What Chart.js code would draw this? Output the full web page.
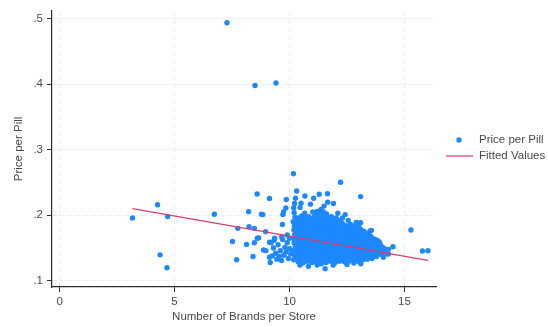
<!DOCTYPE html>
<html>
<head>
<meta charset="utf-8">
<script src="https://cdn.jsdelivr.net/npm/chart.js@4"></script>
<style>
  html, body { margin: 0; padding: 0; background: #ffffff; }
  canvas { display: block; }
</style>
</head>
<body>
<canvas id="chart" width="548" height="327"></canvas>
<script>
// Stores far from the main group
const isolatedStores = [
  [7.28, 0.494], [8.50, 0.398], [9.41, 0.402],
  [3.17, 0.196], [4.26, 0.216], [4.70, 0.198], [4.37, 0.1396], [4.67, 0.120],
  [6.73, 0.2015], [15.28, 0.1775], [15.78, 0.1455], [16.02, 0.146]
];

// Stores with 7.5 to 10 brands
const midStores = [
  [7.52, 0.160], [7.70, 0.132], [7.75, 0.180], [8.13, 0.1555], [8.22, 0.2055],
  [8.24, 0.1825], [8.41, 0.137], [8.47, 0.180], [8.47, 0.158], [8.59, 0.2325],
  [8.60, 0.165], [8.66, 0.1655], [8.78, 0.2015], [8.84, 0.201], [8.87, 0.147],
  [8.96, 0.175], [8.97, 0.146], [9.13, 0.2255], [9.13, 0.159], [9.13, 0.136],
  [9.16, 0.128], [9.33, 0.162], [9.66, 0.167], [9.69, 0.186], [9.71, 0.201],
  [9.74, 0.205], [9.84, 0.211], [9.86, 0.224], [9.20, 0.158], [9.30, 0.150],
  [9.40, 0.142], [9.50, 0.155], [9.55, 0.137], [9.60, 0.146], [9.70, 0.163],
  [9.75, 0.139], [9.80, 0.151], [9.85, 0.144], [9.90, 0.158], [9.95, 0.134],
  [10.00, 0.149], [10.05, 0.141], [9.45, 0.133], [9.65, 0.131], [9.35, 0.165],
  [9.90, 0.170], [10.00, 0.165], [9.25, 0.138]
];

// Main group of stores, 10 to 14.5 brands
const clusterStores = [
  [10.18,0.132],[10.22,0.139],[10.15,0.146],[10.25,0.152],[10.20,0.158],[10.17,0.165],[10.23,0.171],[10.19,0.178],
  [10.21,0.184],[10.16,0.190],[10.24,0.197],[10.20,0.204],[10.18,0.211],[10.22,0.218],[10.26,0.226],
  [10.38,0.129],[10.42,0.135],[10.36,0.141],[10.44,0.147],[10.40,0.153],[10.37,0.159],[10.43,0.164],[10.39,0.170],
  [10.41,0.176],[10.35,0.183],[10.45,0.189],[10.40,0.196],
  [10.58,0.127],[10.63,0.133],[10.57,0.139],[10.61,0.145],[10.64,0.151],[10.56,0.157],[10.60,0.163],[10.62,0.169],
  [10.59,0.175],[10.65,0.181],[10.57,0.188],[10.61,0.194],[10.66,0.203],
  [10.79,0.130],[10.83,0.136],[10.77,0.142],[10.81,0.148],[10.84,0.154],[10.78,0.160],[10.82,0.166],[10.80,0.172],
  [10.76,0.178],[10.85,0.185],[10.79,0.191],[10.83,0.198],
  [10.98,0.128],[11.03,0.134],[10.97,0.140],[11.01,0.146],[11.04,0.152],[10.99,0.158],[11.02,0.165],[10.96,0.171],
  [11.05,0.177],[11.00,0.183],[10.98,0.190],[11.03,0.196],[11.01,0.205],
  [11.19,0.129],[11.23,0.135],[11.17,0.141],[11.21,0.147],[11.24,0.153],[11.18,0.159],[11.22,0.166],[11.20,0.172],
  [11.16,0.178],[11.25,0.184],[11.19,0.190],[11.23,0.197],[11.20,0.206],
  [11.38,0.126],[11.42,0.132],[11.37,0.138],[11.41,0.144],[11.44,0.150],[11.39,0.156],[11.43,0.162],[11.36,0.168],
  [11.40,0.174],[11.45,0.180],[11.38,0.187],[11.42,0.193],[11.40,0.200],[11.37,0.209],
  [11.59,0.128],[11.63,0.134],[11.57,0.140],[11.61,0.146],[11.64,0.152],[11.58,0.158],[11.62,0.164],[11.60,0.170],
  [11.56,0.176],[11.65,0.182],[11.59,0.189],[11.63,0.195],[11.61,0.202],
  [11.78,0.130],[11.82,0.136],[11.77,0.142],[11.81,0.148],[11.84,0.154],[11.79,0.160],[11.83,0.166],[11.76,0.172],
  [11.80,0.178],[11.85,0.184],[11.78,0.191],[11.82,0.198],
  [11.99,0.128],[12.03,0.134],[11.97,0.140],[12.01,0.146],[12.04,0.152],[11.98,0.158],[12.02,0.164],[12.00,0.170],
  [11.96,0.176],[12.05,0.183],[11.99,0.189],[12.03,0.196],
  [12.18,0.130],[12.22,0.136],[12.17,0.142],[12.21,0.148],[12.24,0.154],[12.19,0.160],[12.23,0.166],[12.16,0.172],
  [12.20,0.179],[12.25,0.185],[12.18,0.192],
  [12.39,0.129],[12.43,0.135],[12.37,0.141],[12.41,0.147],[12.44,0.153],[12.38,0.159],[12.42,0.165],[12.40,0.171],
  [12.36,0.177],[12.45,0.184],
  [12.58,0.130],[12.62,0.136],[12.57,0.142],[12.61,0.148],[12.64,0.154],[12.59,0.160],[12.63,0.166],[12.56,0.172],
  [12.60,0.179],[12.65,0.186],
  [12.79,0.131],[12.83,0.137],[12.77,0.143],[12.81,0.149],[12.84,0.155],[12.78,0.161],[12.82,0.167],[12.80,0.174],
  [12.76,0.181],
  [12.98,0.130],[13.02,0.136],[12.97,0.142],[13.01,0.148],[13.04,0.154],[12.99,0.160],[13.03,0.167],[12.96,0.174],
  [13.00,0.182],[13.05,0.188],
  [13.19,0.132],[13.23,0.138],[13.17,0.144],[13.21,0.150],[13.24,0.156],[13.18,0.162],[13.22,0.169],[13.20,0.176],
  [13.38,0.133],[13.42,0.139],[13.37,0.145],[13.41,0.151],[13.44,0.157],[13.39,0.164],[13.43,0.171],
  [13.59,0.134],[13.63,0.140],[13.57,0.146],[13.61,0.152],[13.64,0.158],[13.58,0.165],
  [13.78,0.137],[13.82,0.143],[13.77,0.149],[13.81,0.155],[13.84,0.161],
  [14.00,0.140],[14.03,0.147],[13.98,0.153],[14.25,0.141],[14.30,0.148],[14.50,0.152]
];

// Stores between the columns of the main group
const clusterStoresInner = [
  [10.31,0.135],[10.29,0.142],[10.32,0.149],[10.28,0.155],[10.30,0.161],[10.33,0.168],[10.27,0.174],[10.31,0.181],[10.29,0.187],[10.32,0.193],
  [10.51,0.132],[10.48,0.138],[10.52,0.144],[10.49,0.150],[10.53,0.156],[10.50,0.162],[10.47,0.167],[10.52,0.173],[10.49,0.179],[10.51,0.186],[10.48,0.192],[10.53,0.199],
  [10.70,0.130],[10.72,0.136],[10.68,0.142],[10.71,0.148],[10.69,0.154],[10.73,0.160],[10.70,0.166],[10.67,0.172],[10.72,0.178],[10.69,0.184],[10.71,0.191],[10.70,0.197],
  [10.91,0.133],[10.88,0.139],[10.92,0.145],[10.89,0.151],[10.93,0.157],[10.90,0.163],[10.87,0.169],[10.92,0.175],[10.89,0.181],[10.91,0.188],[10.88,0.194],
  [11.10,0.131],[11.12,0.137],[11.08,0.143],[11.11,0.149],[11.09,0.155],[11.13,0.162],[11.10,0.168],[11.07,0.174],[11.12,0.180],[11.09,0.187],[11.11,0.193],[11.10,0.201],
  [11.31,0.129],[11.28,0.135],[11.32,0.141],[11.29,0.147],[11.33,0.153],[11.30,0.159],[11.27,0.165],[11.32,0.171],[11.29,0.177],[11.31,0.183],[11.28,0.190],[11.33,0.196],[11.30,0.203],
  [11.50,0.131],[11.52,0.137],[11.48,0.143],[11.51,0.149],[11.49,0.155],[11.53,0.161],[11.50,0.167],[11.47,0.173],[11.52,0.179],[11.49,0.185],[11.51,0.192],[11.50,0.198],[11.48,0.205],
  [11.71,0.133],[11.68,0.139],[11.72,0.145],[11.69,0.151],[11.73,0.157],[11.70,0.163],[11.67,0.169],[11.72,0.175],[11.69,0.181],[11.71,0.187],[11.68,0.194],
  [11.90,0.131],[11.92,0.137],[11.88,0.143],[11.91,0.149],[11.89,0.155],[11.93,0.161],[11.90,0.167],[11.87,0.173],[11.92,0.180],[11.89,0.186],[11.91,0.193],
  [12.11,0.133],[12.08,0.139],[12.12,0.145],[12.09,0.151],[12.13,0.157],[12.10,0.163],[12.07,0.169],[12.12,0.175],[12.09,0.182],[12.11,0.188],
  [12.30,0.132],[12.32,0.138],[12.28,0.144],[12.31,0.150],[12.29,0.156],[12.33,0.162],[12.30,0.168],[12.27,0.174],[12.32,0.181],[12.29,0.188],
  [12.51,0.133],[12.48,0.139],[12.52,0.145],[12.49,0.151],[12.53,0.157],[12.50,0.163],[12.47,0.169],[12.52,0.176],[12.49,0.182],
  [12.70,0.134],[12.72,0.140],[12.68,0.146],[12.71,0.152],[12.69,0.158],[12.73,0.164],[12.70,0.170],[12.67,0.177],[12.72,0.184],
  [12.91,0.133],[12.88,0.139],[12.92,0.145],[12.89,0.151],[12.93,0.157],[12.90,0.164],[12.87,0.171],[12.92,0.178],[12.89,0.185],
  [13.10,0.135],[13.12,0.141],[13.08,0.147],[13.11,0.153],[13.09,0.159],[13.13,0.165],[13.10,0.172],[13.07,0.179],
  [13.31,0.136],[13.28,0.142],[13.32,0.148],[13.29,0.154],[13.33,0.160],[13.30,0.167],[13.27,0.174],
  [13.50,0.137],[13.52,0.143],[13.48,0.149],[13.51,0.155],[13.49,0.161],[13.53,0.168],
  [13.71,0.138],[13.68,0.144],[13.72,0.150],[13.69,0.156],[13.73,0.162],
  [13.90,0.141],[13.92,0.147],[13.88,0.153],[13.91,0.159],
  [14.11,0.144],[14.09,0.150]
];

// Stores on the rim of the main group
const rimStores = [
  [10.31,0.237],[10.17,0.2635],[10.67,0.2295],[11.29,0.232],[11.65,0.233],[12.22,0.2505],[13.09,0.2285],
  [11.05,0.226],[11.66,0.220],[11.91,0.218],[10.91,0.217],[10.50,0.2185],[12.10,0.203],[12.42,0.201],
  [10.46,0.212],[11.27,0.206],[11.50,0.214],[12.30,0.196],[12.55,0.192],[12.90,0.189],[13.09,0.1885],
  [13.50,0.176],[13.56,0.177],[13.72,0.1635],[13.93,0.156],[14.16,0.148],[14.08,0.136],[14.30,0.141],
  [10.82,0.122],[11.55,0.1185],[11.90,0.124],[12.50,0.125],[10.45,0.124],[13.10,0.126],[12.80,0.127],[11.20,0.124]
];

// Endpoints of the fitted regression line
const fittedBrands = [3.17, 16.02];
const fittedPrice = [0.2102, 0.1312];

const xTicks = [0, 5, 10, 15];
const yTicks = [0.1, 0.2, 0.3, 0.4, 0.5];
const yTickLabels = ['.1', '.2', '.3', '.4', '.5'];

const seriesNames = ['Price per Pill', 'Fitted Values'];
const axisTitles = { x: 'Number of Brands per Store', y: 'Price per Pill' };

const POINT_COLOR = '#1e88ff';
const LINE_COLOR = '#dc3b6e';
const TEXT_COLOR = '#4a4a4a';
const FONT = '"Liberation Sans", Arial, sans-serif';

const toXY = p => ({ x: p[0], y: p[1] });
const priceData = [...isolatedStores, ...midStores, ...clusterStores, ...clusterStoresInner, ...rimStores].map(toXY);
const fittedData = fittedBrands.map((x, i) => ({ x, y: fittedPrice[i] }));

// Legend drawn at the right of the plot area
const sideLegend = {
  id: 'sideLegend',
  afterDraw(chart) {
    const ctx = chart.ctx;
    ctx.save();
    ctx.font = '11.5px ' + FONT;
    ctx.textBaseline = 'middle';
    ctx.textAlign = 'left';
    const rowY = [140, 156];
    ctx.beginPath();
    ctx.arc(459, rowY[0], 2.7, 0, Math.PI * 2);
    ctx.fillStyle = POINT_COLOR;
    ctx.fill();
    ctx.fillStyle = TEXT_COLOR;
    ctx.fillText(seriesNames[0], 479, rowY[0]);
    ctx.beginPath();
    ctx.moveTo(446, rowY[1]);
    ctx.lineTo(473, rowY[1]);
    ctx.strokeStyle = LINE_COLOR;
    ctx.lineWidth = 1.2;
    ctx.stroke();
    ctx.fillText(seriesNames[1], 479, rowY[1]);
    ctx.restore();
  }
};

new Chart(document.getElementById('chart'), {
  type: 'scatter',
  data: {
    datasets: [
      {
        label: seriesNames[1],
        type: 'line',
        data: fittedData,
        borderColor: LINE_COLOR,
        borderWidth: 1.2,
        pointRadius: 0,
        fill: false,
        order: 0
      },
      {
        label: seriesNames[0],
        data: priceData,
        backgroundColor: POINT_COLOR,
        borderWidth: 0,
        pointRadius: 2.7,
        pointHoverRadius: 2.7,
        order: 1
      }
    ]
  },
  options: {
    responsive: false,
    animation: false,
    devicePixelRatio: 1,
    layout: { padding: { top: 6, right: 112, left: 0, bottom: 0 } },
    plugins: { legend: { display: false }, tooltip: { enabled: false } },
    scales: {
      x: {
        type: 'linear',
        min: -0.33,
        max: 16.37,
        afterFit(scale) { scale.height = 40; },
        afterBuildTicks(scale) { scale.ticks = xTicks.map(v => ({ value: v })); },
        ticks: {
          color: TEXT_COLOR,
          font: { family: FONT, size: 11.5 },
          padding: 3,
          maxRotation: 0,
          callback: v => String(v)
        },
        grid: {
          color: '#ececec',
          lineWidth: 1,
          drawTicks: true,
          tickLength: 5,
          tickColor: '#333333',
          tickWidth: 1,
          tickBorderDash: []
        },
        border: { display: true, color: '#2b2b2b', width: 1.2, dash: [5, 3] },
        title: {
          display: true,
          text: axisTitles.x,
          color: TEXT_COLOR,
          font: { family: FONT, size: 11.5 },
          padding: { top: 0, bottom: 3 }
        }
      },
      y: {
        type: 'linear',
        min: 0.0905,
        max: 0.512,
        afterFit(scale) { scale.width = 52; },
        afterBuildTicks(scale) { scale.ticks = yTicks.map(v => ({ value: v })); },
        ticks: {
          color: TEXT_COLOR,
          font: { family: FONT, size: 11.5 },
          padding: 4,
          callback: (v) => yTickLabels[yTicks.findIndex(t => Math.abs(t - v) < 1e-9)]
        },
        grid: {
          color: '#ececec',
          lineWidth: 1,
          drawTicks: true,
          tickLength: 5,
          tickColor: '#333333',
          tickWidth: 1,
          tickBorderDash: []
        },
        border: { display: true, color: '#2b2b2b', width: 1.2, dash: [5, 3] },
        title: {
          display: true,
          text: axisTitles.y,
          color: TEXT_COLOR,
          font: { family: FONT, size: 11.5 },
          padding: { top: 12, bottom: 0 }
        }
      }
    }
  },
  plugins: [sideLegend]
});
</script>
</body>
</html>
